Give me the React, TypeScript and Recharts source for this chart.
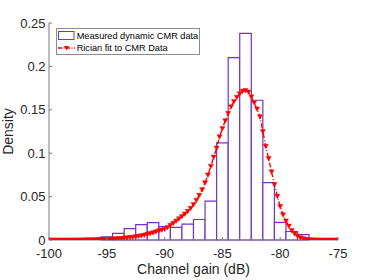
import { ComposedChart, Line, XAxis, YAxis, ReferenceArea, Legend } from 'recharts';

// histogram bins (left edge in dB, width 1 dB) and measured density
const binLeft = [-95.5, -94.5, -93.5, -92.5, -91.5, -90.5, -89.5, -88.5, -87.5, -86.5, -85.5, -84.5, -83.5, -82.5, -81.5, -80.5, -79.5, -78.5];
const binDensity = [0.0035, 0.0077, 0.0132, 0.0177, 0.0201, 0.0155, 0.0146, 0.0182, 0.0236, 0.0449, 0.112, 0.21, 0.238, 0.161, 0.066, 0.0202, 0.0098, 0.0062];
const BIN_WIDTH = 1;

// rician fit curve
const fitGain = [
  -100, -99.75, -99.5, -99.25, -99, -98.75, -98.5, -98.25, -98, -97.75,
  -97.5, -97.25, -97, -96.75, -96.5, -96.25, -96, -95.75, -95.5, -95.25,
  -95, -94.75, -94.5, -94.25, -94, -93.75, -93.5, -93.25, -93, -92.75,
  -92.5, -92.25, -92, -91.75, -91.5, -91.25, -91, -90.75, -90.5, -90.25,
  -90, -89.75, -89.5, -89.25, -89, -88.75, -88.5, -88.25, -88, -87.75,
  -87.5, -87.25, -87, -86.75, -86.5, -86.25, -86, -85.75, -85.5, -85.25,
  -85, -84.75, -84.5, -84.25, -84, -83.75, -83.5, -83.25, -83, -82.75,
  -82.5, -82.25, -82, -81.75, -81.5, -81.25, -81, -80.75, -80.5, -80.25,
  -80, -79.75, -79.5, -79.25, -79, -78.75, -78.5, -78.25, -78, -77.75,
  -77.5, -77.25, -77, -76.75, -76.5, -76.25, -76, -75.75, -75.5, -75.25,
  -75,
];
const fitDensity = [
  0, 0, 0, 0, 0, 0, 0, 0, 0, 0,
  0.0001, 0.0001, 0.0001, 0.0002, 0.0002, 0.0003, 0.0004, 0.0005, 0.0006, 0.0007,
  0.0008, 0.001, 0.0012, 0.0014, 0.0016, 0.0018, 0.0021, 0.0025, 0.0029, 0.0033,
  0.0038, 0.0044, 0.005, 0.0057, 0.0065, 0.0074, 0.0084, 0.0095, 0.0107, 0.0116,
  0.0125, 0.0145, 0.017, 0.0193, 0.0218, 0.0245, 0.0272, 0.03, 0.033, 0.0365,
  0.0408, 0.0458, 0.0515, 0.058, 0.066, 0.075, 0.085, 0.0955, 0.106, 0.119,
  0.1285, 0.1375, 0.146, 0.1535, 0.1595, 0.1645, 0.1685, 0.1715, 0.1722, 0.1705,
  0.165, 0.158, 0.151, 0.142, 0.125, 0.108, 0.094, 0.0785, 0.064, 0.0505,
  0.0385, 0.029, 0.022, 0.016, 0.011, 0.0072, 0.0045, 0.0027, 0.0015, 0.0008,
  0.0004, 0.0002, 0.0001, 0, 0, 0, 0, 0, 0, 0,
  0,
];

const xTicks = [-100, -95, -90, -85, -80, -75];
const yTicks = [0, 0.05, 0.1, 0.15, 0.2, 0.25];

const fitData = fitGain.map((g, i) => ({ gain: g, density: fitDensity[i] }));

const FONT = '"Liberation Sans", Arial, Helvetica, sans-serif';
const PURPLE = '#7433c6';
const RED = '#ff0000';
const AXIS = '#7a7a7a';
const TEXT = '#262626';

const BottomTick = (props: any) => {
  const { x, y, payload } = props;
  return (
    <g>
      <line x1={x} y1={y} x2={x} y2={y - 3} stroke={AXIS} />
      <text x={x} y={y + 18} textAnchor="middle" fill={TEXT} fontSize={13} fontFamily={FONT}>
        {payload.value}
      </text>
    </g>
  );
};

const LeftTick = (props: any) => {
  const { x, y, payload } = props;
  return (
    <g>
      <line x1={x} y1={y} x2={x + 3} y2={y} stroke={AXIS} />
      <text x={x - 3.5} y={y + 4.5} textAnchor="end" fill={TEXT} fontSize={13} fontFamily={FONT}>
        {payload.value}
      </text>
    </g>
  );
};

const TopTick = (props: any) => {
  const { x, y } = props;
  return <line x1={x} y1={y} x2={x} y2={y + 3} stroke={AXIS} />;
};

const RightTick = (props: any) => {
  const { x, y } = props;
  return <line x1={x} y1={y} x2={x - 3} y2={y} stroke={AXIS} />;
};

const TriangleDot = (props: any) => {
  const { cx, cy, index } = props;
  if (cx == null || cy == null) return <g key={index} />;
  return (
    <path
      key={index}
      d={`M${cx - 2.6},${cy - 2} L${cx + 2.6},${cy - 2} L${cx},${cy + 2.5} Z`}
      fill={RED}
      stroke={RED}
      strokeWidth={0.4}
    />
  );
};

function LegendBox() {
  return (
    <div
      style={{
        boxSizing: 'border-box',
        width: 144,
        height: 27,
        border: '1px solid #8c8c8c',
        background: '#fff',
        padding: '1px 0 0 1px',
        fontFamily: FONT,
        fontSize: 9.2,
        color: '#000',
        lineHeight: '12px',
        whiteSpace: 'nowrap',
      }}
    >
      <div style={{ display: 'flex', alignItems: 'center', height: 12 }}>
        <svg width={17} height={12} style={{ display: 'block' }}>
          <rect x={0.5} y={1.5} width={15.5} height={8} fill="#fff" stroke={PURPLE} />
        </svg>
        <span style={{ marginLeft: 1.7 }}>Measured dynamic CMR data</span>
      </div>
      <div style={{ display: 'flex', alignItems: 'center', height: 12 }}>
        <svg width={17} height={12} style={{ display: 'block' }}>
          <line x1={0} y1={6} x2={17} y2={6} stroke={RED} strokeWidth={1.3} strokeDasharray="4 1.5 1 1.5" />
          <path d="M6,4 L11,4 L8.5,8.5 Z" fill={RED} />
        </svg>
        <span style={{ marginLeft: 1.7 }}>Rician fit to CMR Data</span>
      </div>
    </div>
  );
}

export default function App() {
  return (
    <div style={{ position: 'absolute', left: 0, top: 0, width: 374, height: 280, background: '#fff' }}>
      <ComposedChart width={374} height={280} margin={{ top: 23, right: 36, bottom: 0, left: 0 }}>
        <XAxis
          dataKey="gain"
          type="number"
          domain={[-100, -75]}
          ticks={xTicks}
          interval={0}
          allowDataOverflow
          height={40}
          tickSize={0}
          tickMargin={0}
          tick={<BottomTick />}
          tickLine={false}
          axisLine={{ stroke: AXIS }}
          label={{ value: 'Channel gain (dB)', position: 'insideBottom', offset: 6, fill: TEXT, fontSize: 14, fontFamily: FONT }}
        />
        <XAxis
          xAxisId="top"
          orientation="top"
          type="number"
          domain={[-100, -75]}
          ticks={xTicks}
          interval={0}
          allowDataOverflow
          height={0}
          tickSize={0}
          tickMargin={0}
          tick={<TopTick />}
          tickLine={false}
          axisLine={{ stroke: AXIS }}
        />
        <YAxis
          type="number"
          domain={[0, 0.25]}
          ticks={yTicks}
          interval={0}
          allowDataOverflow
          width={49}
          tickSize={0}
          tickMargin={0}
          tick={<LeftTick />}
          tickLine={false}
          axisLine={{ stroke: AXIS }}
          label={{
            value: 'Density',
            angle: -90,
            position: 'insideLeft',
            offset: 8,
            fill: TEXT,
            fontSize: 14,
            fontFamily: FONT,
            style: { textAnchor: 'middle' },
          }}
        />
        <YAxis
          yAxisId="right"
          orientation="right"
          type="number"
          domain={[0, 0.25]}
          ticks={yTicks}
          interval={0}
          allowDataOverflow
          width={0}
          tickSize={0}
          tickMargin={0}
          tick={<RightTick />}
          tickLine={false}
          axisLine={{ stroke: '#b4b4b4', strokeWidth: 1.5 }}
        />
        {binLeft.map((left, i) => (
          <ReferenceArea
            key={left}
            x1={left}
            x2={left + BIN_WIDTH}
            y1={0}
            y2={binDensity[i]}
            fill="#ffffff"
            fillOpacity={1}
            stroke={PURPLE}
            strokeWidth={1.2}
          />
        ))}
        <Line
          data={fitData}
          dataKey="density"
          type="linear"
          stroke={RED}
          strokeWidth={1.4}
          strokeDasharray="5 2 1 2"
          dot={TriangleDot}
          isAnimationActive={false}
        />
        <Legend
          layout="horizontal"
          verticalAlign="middle"
          align="center"
          wrapperStyle={{ left: 56, top: 28, width: 144, height: 27 }}
          content={() => <LegendBox />}
        />
      </ComposedChart>
    </div>
  );
}
